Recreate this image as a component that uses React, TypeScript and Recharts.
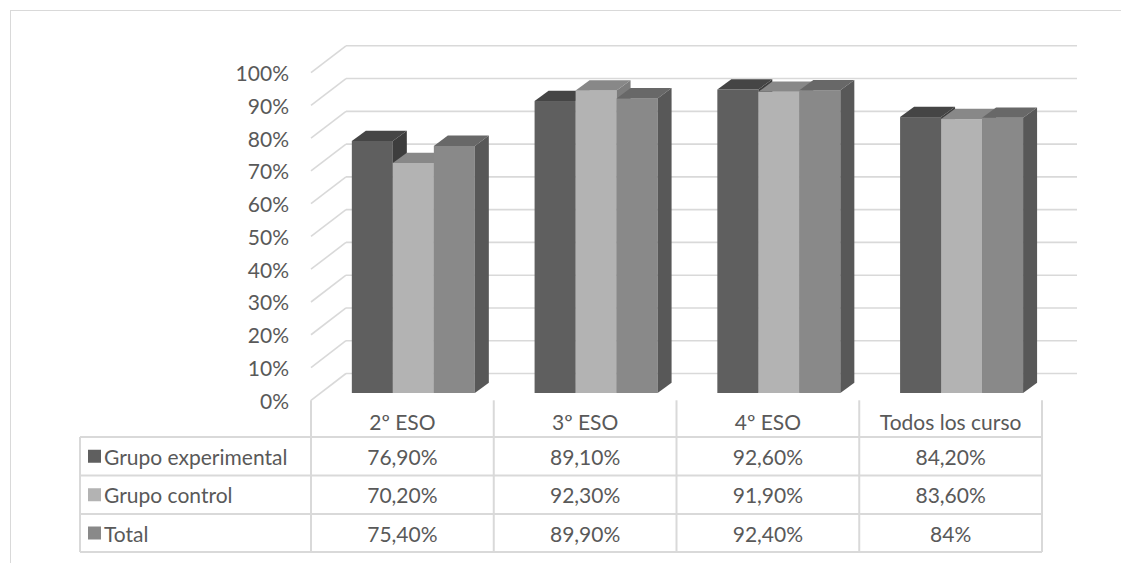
import { BarChart, Bar, XAxis, YAxis, CartesianGrid } from 'recharts';

// Share of students per course (percent)
const categories = ['2º ESO', '3º ESO', '4º ESO', 'Todos los curso'];
const experimental = [76.9, 89.1, 92.6, 84.2];
const control = [70.2, 92.3, 91.9, 83.6];
const total = [75.4, 89.9, 92.4, 84];
const yTicks = [0, 10, 20, 30, 40, 50, 60, 70, 80, 90, 100];

const series = [
  { key: 'experimental', name: 'Grupo experimental', values: experimental, front: '#5f5f5f', top: '#454545', side: '#3d3d3d' },
  { key: 'control', name: 'Grupo control', values: control, front: '#b3b3b3', top: '#888888', side: '#7d7d7d' },
  { key: 'total', name: 'Total', values: total, front: '#898989', top: '#686868', side: '#585858' },
];

const data = categories.map((cat, i) => ({
  cat,
  experimental: experimental[i],
  control: control[i],
  total: total[i],
}));

const W = 1121;
const H = 563;
const FONT = 'Lato, "Open Sans", sans-serif';
const FS = 21;
const TEXT = '#595959';
const LINE = '#d9d9d9';

// plot area = plane where the bar front faces sit
const PLOT_TOP = 65.3;
const PLOT_BOTTOM = 393;
const PLOT_LEFT = 321.5;
const PLOT_RIGHT = 1052.5;
// offsets of the front edge / back wall relative to the bar plane
const FRONT = { dx: -10.5, dy: 7.3 };
const BACK = { dx: 24.5, dy: -19.5 };
// depth of each bar box
const DEPTH = { dx: 14, dy: -10.3 };

const catW = (PLOT_RIGHT - PLOT_LEFT) / categories.length;
const tableLeft = 80;
const colX = categories.map((_, i) => PLOT_LEFT + FRONT.dx + i * catW);
const tableRight = PLOT_RIGHT + FRONT.dx;
const headerTop = PLOT_BOTTOM + FRONT.dy;
const rowLines = [437, 475.5, 514, 552];

const fmt = (v: number) => (Number.isInteger(v) ? `${v}%` : `${v.toFixed(2).replace('.', ',')}%`);

function Prism(props: any, c: { front: string; top: string; side: string }) {
  const { x, y, width: w, height: h } = props;
  if (h == null || w == null) return <g />;
  const { dx, dy } = DEPTH;
  return (
    <g>
      <rect x={x} y={y} width={w} height={h} fill={c.front} />
      <polygon points={`${x},${y} ${x + w},${y} ${x + w + dx},${y + dy} ${x + dx},${y + dy}`} fill={c.top} />
      <polygon
        points={`${x + w},${y} ${x + w + dx},${y + dy} ${x + w + dx},${y + h + dy} ${x + w},${y + h}`}
        fill={c.side}
      />
    </g>
  );
}

function WallLine(p: any) {
  const { x1, x2, y1 } = p;
  return (
    <g key={p.key ?? `wall-${p.index}`}>
      <line x1={x1 + FRONT.dx} y1={y1 + FRONT.dy} x2={x1 + BACK.dx} y2={y1 + BACK.dy} stroke={LINE} strokeWidth={1.6} />
      <line x1={x1 + BACK.dx} y1={y1 + BACK.dy} x2={x2 + BACK.dx} y2={y1 + BACK.dy} stroke={LINE} strokeWidth={1.6} />
    </g>
  );
}

function YTick(p: any) {
  const { y, payload } = p;
  return (
    <text
      x={PLOT_LEFT + FRONT.dx - 22}
      y={y + FRONT.dy}
      textAnchor="end"
      dominantBaseline="central"
      fill={TEXT}
      fontSize={FS}
      fontFamily={FONT}
    >
      {payload.value}%
    </text>
  );
}

function XTick(p: any) {
  const { x, payload } = p;
  return (
    <text
      x={x + FRONT.dx}
      y={headerTop + 21}
      textAnchor="middle"
      dominantBaseline="central"
      fill={TEXT}
      fontSize={FS}
      fontFamily={FONT}
    >
      {payload.value}
    </text>
  );
}

function DataTable() {
  const rowMid = (i: number) => (rowLines[i] + rowLines[i + 1]) / 2;
  return (
    <svg width={W} height={H} style={{ position: 'absolute', left: 0, top: 0, pointerEvents: 'none' }}>
      {rowLines.map((ly) => (
        <line key={`h${ly}`} x1={tableLeft} y1={ly} x2={tableRight} y2={ly} stroke={LINE} strokeWidth={2} />
      ))}
      <line x1={tableLeft} y1={rowLines[0]} x2={tableLeft} y2={rowLines[3]} stroke={LINE} strokeWidth={2} />
      {[...colX, tableRight].map((cx, i) => (
        <line key={`v${i}`} x1={cx} y1={headerTop} x2={cx} y2={rowLines[3]} stroke={LINE} strokeWidth={2} />
      ))}
      {series.map((s, r) => (
        <g key={s.key}>
          <rect x={88} y={rowMid(r) - 6.5} width={13} height={13} fill={s.front} />
          <text x={104} y={rowMid(r)} dominantBaseline="central" fill={TEXT} fontSize={FS} fontFamily={FONT}>
            {s.name}
          </text>
          {s.values.map((v, i) => (
            <text
              key={i}
              x={colX[i] + catW / 2}
              y={rowMid(r)}
              textAnchor="middle"
              dominantBaseline="central"
              fill={TEXT}
              fontSize={FS}
              fontFamily={FONT}
            >
              {fmt(v)}
            </text>
          ))}
        </g>
      ))}
    </svg>
  );
}

export default function App() {
  return (
    <div style={{ position: 'absolute', left: 0, top: 0, width: W, height: H, overflow: 'hidden', background: '#fff' }}>
      <div
        style={{
          position: 'absolute',
          left: 10,
          top: 10,
          width: 1300,
          height: 700,
          borderLeft: `1.5px solid ${LINE}`,
          borderTop: `1.5px solid ${LINE}`,
        }}
      />
      <div style={{ position: 'absolute', left: 0, top: 0 }}>
        <BarChart
          width={W}
          height={H}
          data={data}
          margin={{ top: PLOT_TOP, right: W - PLOT_RIGHT, bottom: 140, left: 0 }}
          barCategoryGap="16.6%"
          barGap={0}
        >
          <CartesianGrid vertical={false} horizontal={WallLine} />
          <XAxis dataKey="cat" height={H - PLOT_BOTTOM - 140} axisLine={false} tickLine={false} tick={XTick} interval={0} />
          <YAxis
            width={PLOT_LEFT}
            domain={[0, 100]}
            ticks={yTicks}
            axisLine={false}
            tickLine={false}
            tick={YTick}
            interval={0}
          />
          {series.map((s) => (
            <Bar
              key={s.key}
              dataKey={s.key}
              name={s.name}
              isAnimationActive={false}
              shape={(p: any) => Prism(p, s)}
            />
          ))}
        </BarChart>
      </div>
      <DataTable />
    </div>
  );
}
